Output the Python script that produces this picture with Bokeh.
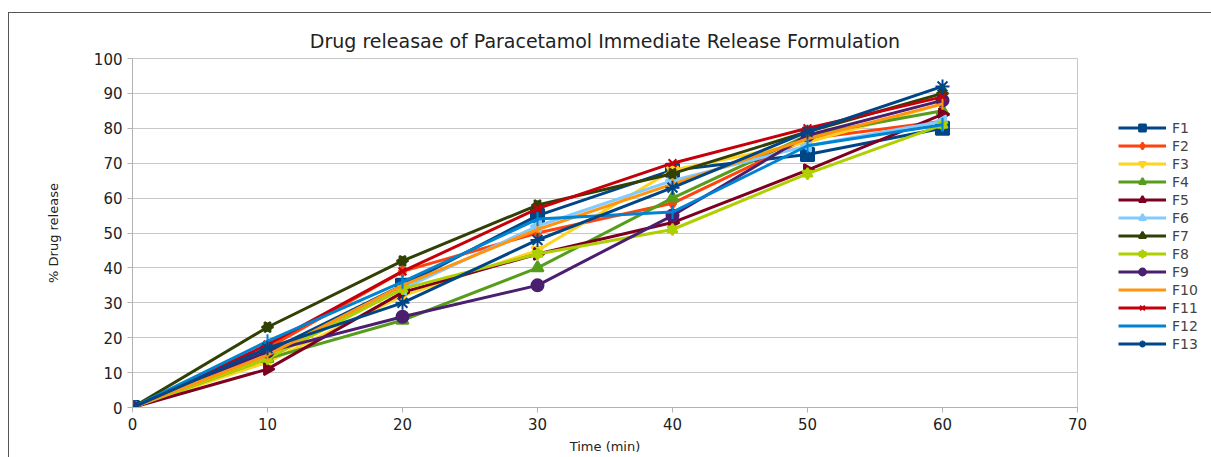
from bokeh.plotting import figure
from bokeh.models import Legend, LegendItem, Range1d, FixedTicker
from bokeh.layouts import row
from bokeh.embed import file_html
from bokeh.resources import INLINE
import math

time_min = [0, 10, 20, 30, 40, 50, 60]
F1 = [0, 16, 35, 55, 68, 72.5, 80]
F2 = [0, 17, 39, 50, 58.5, 77, 82]
F3 = [0, 13, 32, 45, 68, 76, 87]
F4 = [0, 14, 25, 40, 60, 78, 85]
F5 = [0, 11, 33, 44, 53, 68, 84]
F6 = [0, 15, 34, 52, 65, 75, 82]
F7 = [0, 23, 42, 58, 67, 79, 90]
F8 = [0, 14, 34, 44, 51, 67, 81]
F9 = [0, 16, 26, 35, 55, 78, 88]
F10 = [0, 15, 35, 51, 64, 77, 87]
F11 = [0, 18, 39, 57, 70, 80, 89]
F12 = [0, 19, 36, 54, 56, 75, 81]
F13 = [0, 17, 30, 48, 63, 79, 92]

names = ["F1", "F2", "F3", "F4", "F5", "F6", "F7", "F8", "F9", "F10", "F11", "F12", "F13"]
series = [F1, F2, F3, F4, F5, F6, F7, F8, F9, F10, F11, F12, F13]
colors = ["#004586", "#ff420e", "#ffd320", "#579d1c", "#7e0021", "#83caff", "#314004",
          "#aecf00", "#4b1f6f", "#ff950e", "#c5000b", "#0084d1", "#004586"]
markers = [
    [("square", 0)],
    [("diamond", 0)],
    [("inverted_triangle", 0)],
    [("triangle", 0)],
    [("triangle", -math.pi / 2)],
    [("triangle", math.pi / 2)],
    [("triangle", -math.pi / 2), ("triangle", math.pi / 2)],
    [("triangle", 0), ("inverted_triangle", 0)],
    [("circle", 0)],
    [("dash", math.pi / 2)],
    [("x", 0)],
    [("dash", math.pi / 2)],
    [("asterisk", 0)],
]
sizes = [13, 11, 12, 12, 12, 12, 10, 10, 12, 12, 11, 14, 14]

p = figure(width=1080, height=445, output_backend="svg", toolbar_location=None,
           x_range=Range1d(0, 70), y_range=Range1d(0, 100),
           min_border_left=123, min_border_top=45, min_border_bottom=51, min_border_right=12)
p.margin = (12, 0, 0, 8)
p.styles = {"border-left": "1px solid #555555", "border-top": "1px solid #555555"}

p.title.text = "Drug releasae of Paracetamol Immediate Release Formulation"
p.title.align = "center"
p.title.text_font = "DejaVu Sans"
p.title.text_font_size = "19px"
p.title.text_font_style = "normal"
p.title.text_color = "#222222"
p.title.standoff = 14

# legend-only figure: its ranges lie far away from the data so only the legend shows
lf = figure(width=123, height=445, output_backend="svg", toolbar_location=None,
            x_range=Range1d(1000, 1001), y_range=Range1d(1000, 1001),
            min_border_left=0, min_border_top=0, min_border_bottom=0, min_border_right=0)
lf.margin = (12, 0, 0, 0)
lf.styles = {"border-top": "1px solid #555555"}
lf.axis.visible = False
lf.grid.visible = False
lf.outline_line_color = None

items = []
for name, ys, col, mk, sz in zip(names, series, colors, markers, sizes):
    p.line(time_min, ys, line_color=col, line_width=3)
    rs = [lf.line(time_min, ys, line_color=col, line_width=3)]
    for m, ang in mk:
        p.scatter(time_min, ys, marker=m, angle=ang, size=sz,
                  fill_color=col, line_color=col, line_width=2)
        rs.append(lf.scatter(time_min, ys, marker=m, angle=ang, size=sz - 2,
                             fill_color=col, line_color=col, line_width=2))
    items.append(LegendItem(label=name, renderers=rs))

legend = Legend(items=items, location=(30, 55), glyph_width=48, glyph_height=17,
                label_height=17, spacing=1, padding=2, margin=0, label_standoff=6,
                label_text_font="DejaVu Sans", label_text_font_size="14px",
                border_line_color=None, background_fill_alpha=0)
lf.add_layout(legend, "center")

for ax in (p.xaxis[0], p.yaxis[0]):
    ax.axis_line_color = "#b3b3b3"
    ax.major_tick_line_color = "#b3b3b3"
    ax.minor_tick_line_color = None
    ax.major_tick_in = 0
    ax.major_tick_out = 5
    ax.major_label_text_font = "DejaVu Sans"
    ax.major_label_text_font_size = "15px"
    ax.major_label_text_color = "#222222"
    ax.axis_label_text_font = "DejaVu Sans"
    ax.axis_label_text_font_size = "13px"
    ax.axis_label_text_font_style = "normal"
    ax.axis_label_text_color = "#222222"

p.xaxis.ticker = FixedTicker(ticks=[0, 10, 20, 30, 40, 50, 60, 70])
p.yaxis.ticker = FixedTicker(ticks=list(range(0, 101, 10)))
p.xaxis.axis_label = "Time (min)"
p.yaxis.axis_label = "% Drug release"
p.xaxis.axis_label_standoff = 6
p.yaxis.axis_label_standoff = 30

p.xgrid.grid_line_color = None
p.ygrid.grid_line_color = "#c8c8c8"
p.outline_line_color = "#c8c8c8"
p.background_fill_color = "white"

layout = row(p, lf)
open("out.html", "w").write(file_html(layout, INLINE))
